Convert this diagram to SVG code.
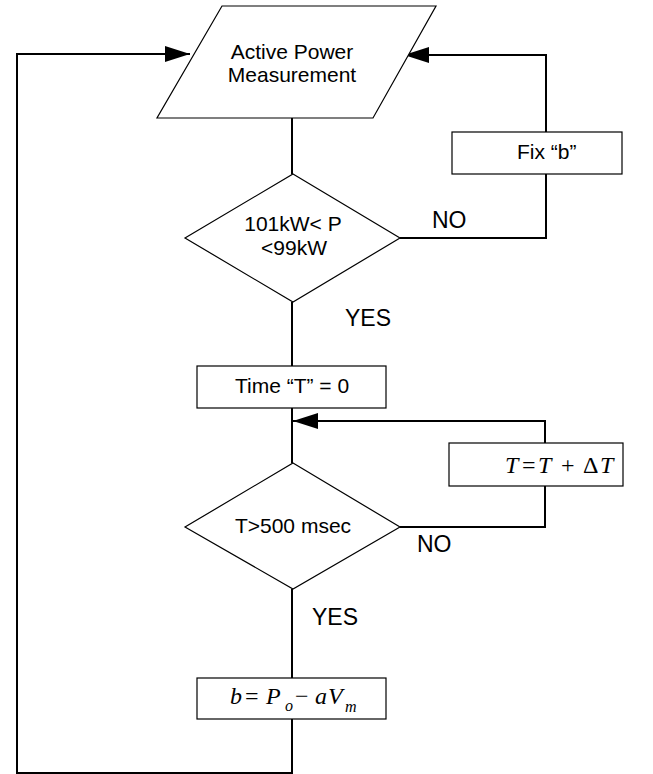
<svg xmlns="http://www.w3.org/2000/svg" width="653" height="774" viewBox="0 0 653 774">
<defs>
<marker id="arr" markerUnits="userSpaceOnUse" markerWidth="26" markerHeight="18" refX="25" refY="8" orient="auto">
<path d="M0,0 L25,8 L0,16 Z" fill="#000"/>
</marker>
<style>
.shape{fill:#fff;stroke:#000;stroke-width:1.2}
.conn{fill:none;stroke:#000;stroke-width:2}
.t{font-family:"Liberation Sans",Arial,sans-serif;font-size:21px;fill:#000}
.lbl{font-family:"Liberation Sans",Arial,sans-serif;font-size:23px;fill:#000}
.m{font-family:"Liberation Serif","Times New Roman",serif;font-size:24px;fill:#000}
.i{font-style:italic}
</style>
</defs>
<rect width="653" height="774" fill="#fff"/>
<g id="connectors">
<path class="conn" d="M292,118 V174"/>
<path class="conn" d="M400,238 H546 V55 H404" marker-end="url(#arr)"/>
<path class="conn" d="M292,302 V366"/>
<path class="conn" d="M292,408 V463"/>
<path class="conn" d="M400,527 H545 V421 H293" marker-end="url(#arr)"/>
<path class="conn" d="M292,589 V678"/>
<path class="conn" d="M292,719 V773 H17 V54 H190" marker-end="url(#arr)"/>
</g>
<g id="measure">
<polygon class="shape" points="222,6 436,6 373,118 157,118"/>
<text class="t" x="292" y="59" text-anchor="middle">Active Power</text>
<text class="t" x="292" y="82" text-anchor="middle">Measurement</text>
</g>
<g id="decision1">
<polygon class="shape" points="293,174 400,238 293,302 185,238"/>
<text class="t" x="293" y="231" text-anchor="middle">101kW&lt; P</text>
<text class="t" x="294" y="255" text-anchor="middle">&lt;99kW</text>
</g>
<g id="fixb">
<rect class="shape" x="452" y="132" width="170" height="42"/>
<text class="t" x="517" y="159">Fix “b”</text>
</g>
<g id="timeinit">
<rect class="shape" x="197" y="366" width="189" height="42"/>
<text class="t" x="292" y="393" text-anchor="middle">Time “T” = 0</text>
</g>
<g id="decision2">
<polygon class="shape" points="293,463 400,527 293,589 185,527"/>
<text class="t" x="293" y="533" text-anchor="middle">T&gt;500 msec</text>
</g>
<g id="increment">
<rect class="shape" x="449" y="443" width="174" height="43"/>
<text class="m" y="473"><tspan class="i" x="505">T</tspan><tspan x="522">=</tspan><tspan class="i" x="538">T</tspan><tspan x="561">+</tspan><tspan x="583">Δ</tspan><tspan class="i" x="600">T</tspan></text>
</g>
<g id="computeb">
<rect class="shape" x="197" y="678" width="189" height="41"/>
<text class="m" y="704"><tspan class="i" x="230">b</tspan><tspan x="245">=</tspan><tspan class="i" x="266">P</tspan><tspan class="i" x="285" y="711" font-size="16">o</tspan><tspan x="295" y="704">−</tspan><tspan class="i" x="315">a</tspan><tspan class="i" x="328">V</tspan><tspan class="i" x="345" y="712" font-size="16">m</tspan></text>
</g>
<g id="labels">
<text class="lbl" x="432" y="228">NO</text>
<text class="lbl" x="345" y="326">YES</text>
<text class="lbl" x="417" y="552">NO</text>
<text class="lbl" x="312" y="625">YES</text>
</g>
</svg>
